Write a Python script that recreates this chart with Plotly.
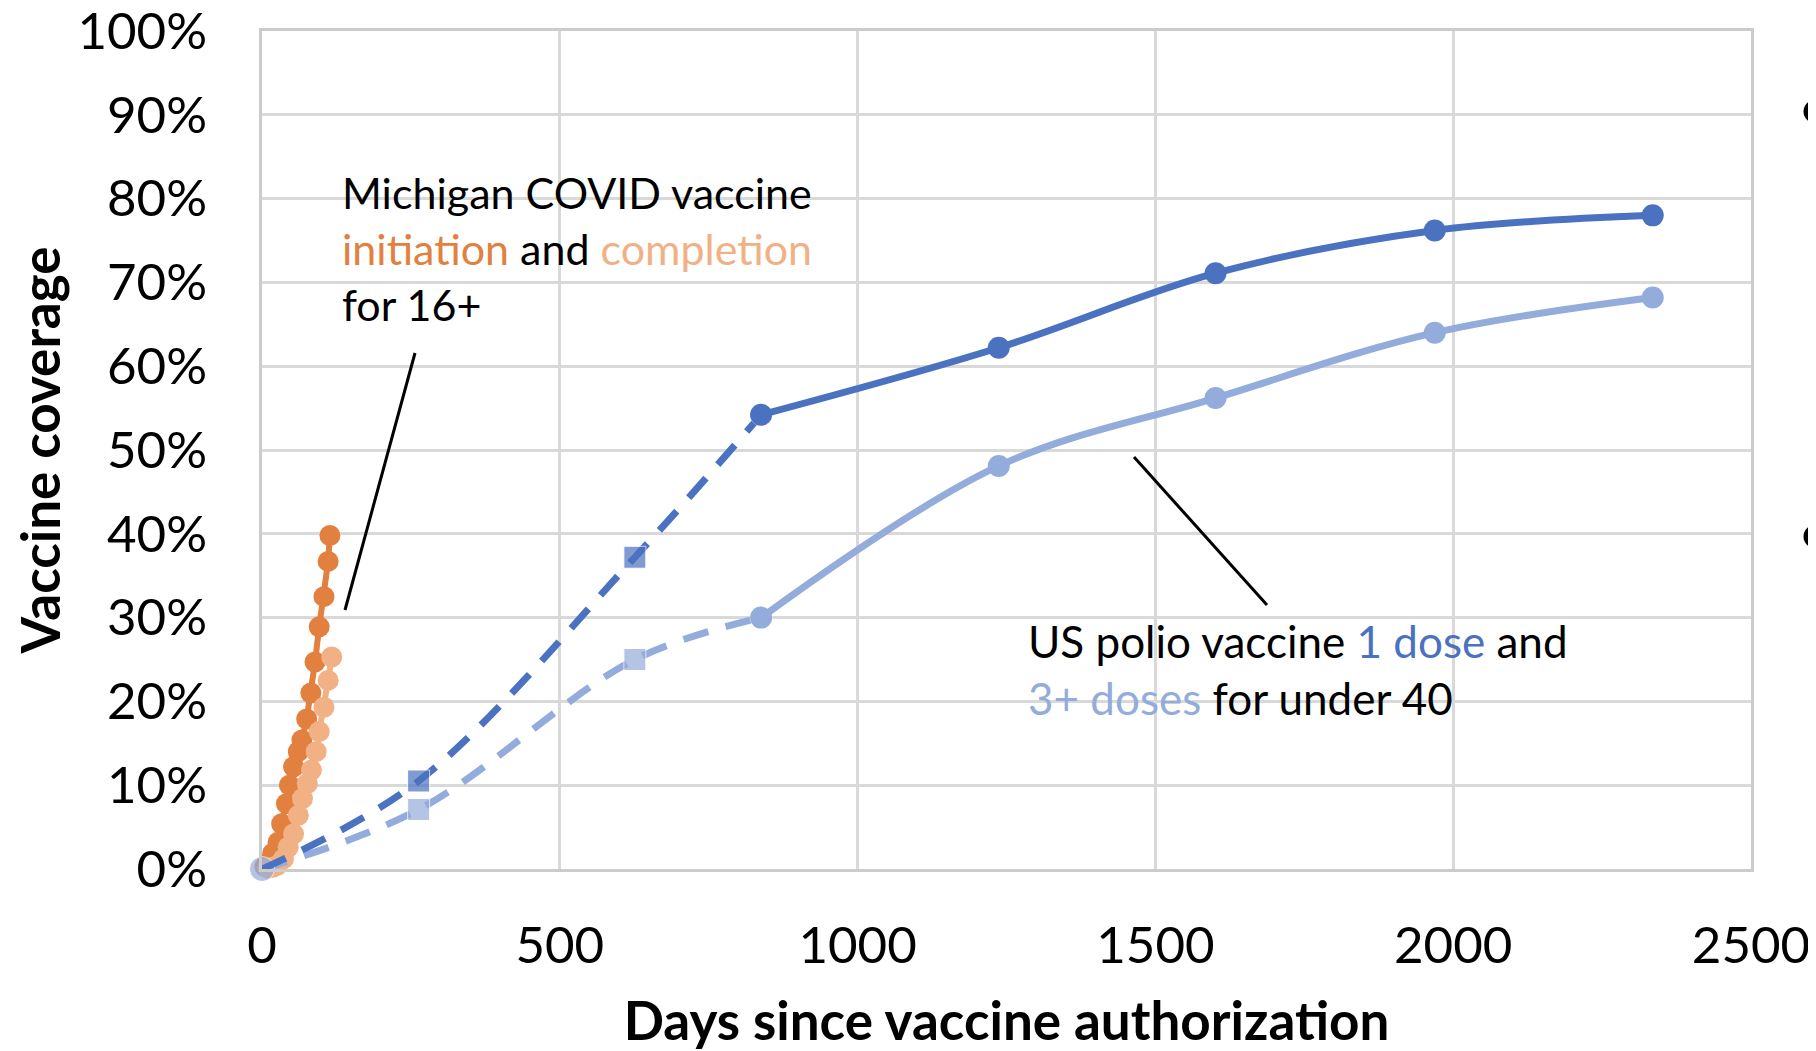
import plotly.graph_objects as go

# ---------------- data ----------------
# Michigan COVID vaccine (16+), days since authorization and coverage
covid_init_days = [5, 13, 18, 27, 33, 41, 46, 53, 61, 67, 75, 82, 89, 96, 104, 111, 114]
covid_init_cov = [0.003, 0.009, 0.019, 0.032, 0.054, 0.078, 0.100, 0.122, 0.140, 0.154,
                  0.179, 0.210, 0.247, 0.289, 0.325, 0.367, 0.398]
covid_comp_days = [10, 18, 25, 36, 44, 53, 61, 68, 76, 83, 91, 96, 104, 111, 117]
covid_comp_cov = [0.001, 0.002, 0.004, 0.012, 0.026, 0.042, 0.064, 0.084, 0.102, 0.118,
                  0.140, 0.164, 0.193, 0.225, 0.253]

# US polio vaccine (under 40)
polio_days = [0, 263, 626, 838, 1237, 1601, 1969, 2335]
polio_1dose = [0.0, 0.105, 0.372, 0.542, 0.622, 0.711, 0.762, 0.780]
polio_3dose = [0.0, 0.071, 0.250, 0.300, 0.481, 0.562, 0.640, 0.682]
n_dashed = 4  # first points joined with a dashed line

x_ticks = [0, 500, 1000, 1500, 2000, 2500]
y_ticks = [i / 10 for i in range(11)]

# ---------------- style ----------------
DARK_OR = "#E2803F"
LIGHT_OR = "#F2B185"
DARK_BL = "#4A72C0"
LIGHT_BL = "#93ACDB"
GRID = "#D9D9D9"
FONT = "Lato"

# window 1816x1051; the page body has an 8px margin
OFF = 8
W, H = 1816 - OFF, 1051 - OFF
L, R, T, B = 262, 1751, 31, 869  # plot area in window pixels


def px(x):
    return (x - L) / (R - L)


def py(y):
    return (B - y) / (B - T)


fig = go.Figure()

fig.add_trace(go.Scatter(
    x=covid_init_days, y=covid_init_cov, mode="lines+markers", cliponaxis=False,
    line=dict(color=DARK_OR, width=6), marker=dict(color=DARK_OR, size=21),
    showlegend=False))
fig.add_trace(go.Scatter(
    x=covid_comp_days, y=covid_comp_cov, mode="lines+markers", cliponaxis=False,
    line=dict(color=LIGHT_OR, width=6), marker=dict(color=LIGHT_OR, size=21),
    showlegend=False))

dash = "26px,18px"
for vals, col, first_size in [(polio_3dose, LIGHT_BL, 25), (polio_1dose, DARK_BL, 0)]:
    d_x = polio_days[:n_dashed]
    d_y = vals[:n_dashed]
    sym = ["circle"] + ["square"] * (n_dashed - 2) + ["circle"]
    size = [first_size] + [22] * (n_dashed - 2) + [22]
    fig.add_trace(go.Scatter(
        x=d_x, y=d_y, mode="lines+markers", cliponaxis=False,
        line=dict(color=col, width=7, dash=dash, shape="spline", smoothing=1.0),
        marker=dict(color=col, size=size, symbol=sym),
        showlegend=False))
    fig.add_trace(go.Scatter(
        x=polio_days[n_dashed - 1:], y=vals[n_dashed - 1:], mode="lines+markers",
        cliponaxis=False,
        line=dict(color=col, width=7, shape="spline", smoothing=1.0),
        marker=dict(color=col, size=22),
        showlegend=False))

# ---------------- annotations ----------------
ann_font = dict(family=FONT, size=43, color="black")
mich_text = ("Michigan COVID vaccine<br>"
             f"<span style='color:{DARK_OR}'>initiation</span> and "
             f"<span style='color:{LIGHT_OR}'>completion</span><br>for 16+")
polio_text = (f"US polio vaccine <span style='color:{DARK_BL}'>1 dose</span> and<br>"
              f"<span style='color:{LIGHT_BL}'>3+ doses</span> for under 40")

annotations = [
    dict(text=mich_text, xref="paper", yref="paper", x=px(340), y=py(249),
         xanchor="left", yanchor="middle", align="left", showarrow=False,
         font=ann_font),
    dict(text=polio_text, xref="paper", yref="paper", x=px(1026), y=py(669),
         xanchor="left", yanchor="middle", align="left", showarrow=False,
         font=dict(family=FONT, size=44, color="black")),
    dict(text="•", xref="paper", yref="paper", x=px(1815), y=py(106),
         xanchor="center", yanchor="middle", showarrow=False,
         font=dict(family=FONT, size=62, color="black")),
    dict(text="•", xref="paper", yref="paper", x=px(1815), y=py(531),
         xanchor="center", yanchor="middle", showarrow=False,
         font=dict(family=FONT, size=62, color="black")),
]

shapes = [
    # white text boxes that hide the gridlines
    dict(type="rect", xref="paper", yref="paper", layer="between",
         x0=px(322), x1=px(901), y0=py(347), y1=py(153),
         fillcolor="white", line=dict(width=0)),
    dict(type="rect", xref="paper", yref="paper", layer="between",
         x0=px(1005), x1=px(1631), y0=py(750), y1=py(602),
         fillcolor="white", line=dict(width=0)),
    # leader lines
    dict(type="line", xref="paper", yref="paper", x0=px(415), y0=py(353),
         x1=px(345), y1=py(610), line=dict(color="black", width=3)),
    dict(type="line", xref="paper", yref="paper", x0=px(1134), y0=py(457),
         x1=px(1267), y1=py(605), line=dict(color="black", width=3)),
]

fig.update_layout(
    width=W, height=H,
    margin=dict(l=L - OFF, r=W - (R - OFF), t=T - OFF, b=H - (B - OFF)),
    paper_bgcolor="white", plot_bgcolor="white",
    annotations=annotations, shapes=shapes,
    font=dict(family=FONT, color="black"),
    xaxis=dict(
        range=[0, 2500], tickvals=x_ticks, ticktext=[str(v) for v in x_ticks],
        showgrid=True, gridcolor=GRID, gridwidth=2.5,
        showline=True, linecolor="#CCCCCC", linewidth=2.5, mirror=True,
        zeroline=False, ticks="", ticklabelstandoff=30, ticklabeloverflow="allow",
        tickfont=dict(family=FONT, size=51, color="black"),
        title=dict(text="Days since vaccine authorization", standoff=36,
                   font=dict(family=FONT, size=53, color="black", weight=700)),
        automargin=False,
    ),
    yaxis=dict(
        range=[0, 1], tickvals=y_ticks, tickformat=".0%",
        showgrid=True, gridcolor=GRID, gridwidth=2.5,
        showline=True, linecolor="#CCCCCC", linewidth=2.5, mirror=True,
        zeroline=False, ticks="", ticklabelstandoff=42, ticklabeloverflow="allow",
        tickfont=dict(family=FONT, size=51, color="black"),
        title=dict(text="Vaccine coverage", standoff=34,
                   font=dict(family=FONT, size=53, color="black", weight=700)),
        automargin=False,
    ),
)

fig.write_html("out.html")
